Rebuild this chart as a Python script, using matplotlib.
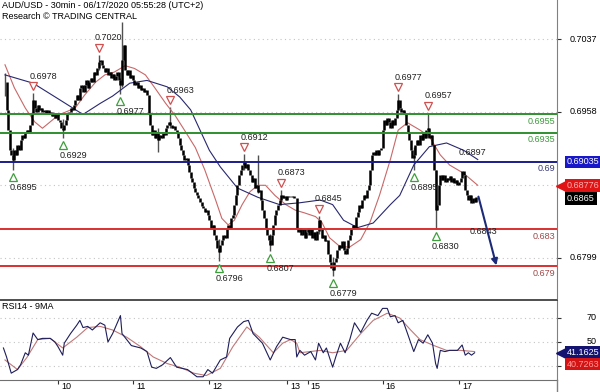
import numpy as np
import matplotlib
matplotlib.use('Agg')
import matplotlib.pyplot as plt
import matplotlib.transforms as mtransforms
from matplotlib.lines import Line2D

plt.rcParams['font.family'] = ['Liberation Sans', 'DejaVu Sans']
FS = 6.5

# AUD/USD 30min closes in pips (x 0.0001), one list per session
closes_09 = [6990, 6960, 6938, 6916, 6911, 6906, 6916, 6911, 6922, 6916, 6927, 6933, 6929, 6936,
             6938, 6936, 6944, 6955, 6971, 6962, 6958, 6965, 6960, 6962, 6958, 6960, 6957, 6960,
             6955, 6958, 6953, 6957, 6951, 6955, 6949]
closes_10 = [6947, 6940, 6938, 6944, 6949, 6955, 6958, 6962, 6960, 6965, 6971, 6976, 6971, 6984,
             6987, 6979, 6987, 6992, 6984, 6990, 6995, 6990, 7001, 6998, 7005, 7012, 7014, 7009,
             7005, 7001, 7005, 6998, 7001, 6995, 6999, 6992, 6997, 7001, 6992, 6987, 7014, 7030,
             7003, 6998, 7003, 6995, 6998]
closes_11 = [6992, 6987, 6990, 6984, 6987, 6982, 6984, 6979, 6982, 6976, 6955, 6944, 6933, 6938,
             6929, 6936, 6927, 6933, 6929, 6936, 6933, 6940, 6944, 6947, 6944, 6940, 6942, 6938,
             6936, 6929, 6922, 6916, 6911, 6906, 6908, 6900, 6892, 6886, 6882, 6875, 6871, 6867,
             6864, 6860, 6855, 6853, 6849, 6851, 6846]
closes_12 = [6840, 6832, 6835, 6824, 6819, 6810, 6806, 6813, 6819, 6824, 6821, 6832, 6835, 6832,
             6842, 6846, 6857, 6867, 6878, 6889, 6895, 6900, 6903, 6897, 6901, 6895, 6889, 6882,
             6886, 6875, 6878, 6871, 6873, 6862, 6851, 6842, 6832, 6824, 6819, 6813, 6824, 6835,
             6846, 6851, 6857, 6862, 6867, 6864, 6866, 6862]
closes_13 = [6866, 6865, 6865, 6866, 6864, 6864, 6832, 6827, 6832, 6824, 6830, 6821, 6827]
closes_15 = [6832, 6824, 6830, 6821, 6827, 6819, 6828, 6840, 6830, 6821, 6824, 6817, 6819, 6803,
             6795, 6788, 6786, 6795, 6799, 6808, 6813, 6810, 6817, 6808, 6803, 6810, 6819, 6824,
             6830, 6835, 6832, 6843, 6849, 6857, 6853, 6862, 6867, 6864, 6873, 6878, 6895, 6911,
             6914, 6911, 6916, 6911, 6916, 6918]
closes_16 = [6938, 6949, 6944, 6951, 6947, 6940, 6949, 6944, 6951, 6960, 6971, 6962, 6958, 6960,
             6955, 6944, 6936, 6927, 6916, 6908, 6911, 6922, 6927, 6922, 6933, 6927, 6936, 6929,
             6938, 6940, 6929, 6933, 6922, 6895, 6851, 6857, 6878, 6889, 6884, 6889, 6882, 6886,
             6884, 6888, 6882, 6886, 6880, 6884, 6878]
closes_17 = [6882, 6886, 6893, 6889, 6873, 6867, 6862, 6867, 6859, 6864, 6860, 6865]

# bars with long wicks: bar index, high, low (pips)
wick_idx = [0, 5, 18, 37, 60, 74, 75, 98, 106, 137, 153, 162, 170, 177, 201, 210, 252, 262, 271, 276]
wick_hi = [7000, 6918, 6978, 6950, 7020, 6995, 7055, 6940, 6963, 6820, 6912, 6911, 6825, 6873,
           6845, 6800, 6977, 6920, 6957, 6895]
wick_lo = [6975, 6895, 6955, 6929, 7003, 6977, 6985, 6914, 6940, 6796, 6895, 6870, 6807, 6860,
           6825, 6779, 6960, 6895, 6930, 6830]

# moving averages (bar index, pips)
ma_fast_idx = [0, 6, 13, 19, 24, 29, 34, 38, 45, 51, 58, 64, 70, 77, 83, 90, 96, 103, 109, 115,
               122, 128, 135, 139, 143, 147, 152, 157, 162, 167, 173, 180, 186, 192, 199, 203,
               208, 215, 221, 228, 234, 240, 247, 252, 258, 266, 272, 279, 285, 294, 303]
ma_fast_val = [7009, 6984, 6962, 6947, 6940, 6947, 6954, 6957, 6962, 6976, 6990, 6998, 7001, 7008,
               7005, 6998, 6984, 6967, 6954, 6938, 6919, 6895, 6862, 6842, 6835, 6840, 6857, 6871,
               6878, 6878, 6867, 6857, 6851, 6848, 6844, 6838, 6821, 6811, 6811, 6819, 6838, 6867,
               6906, 6938, 6946, 6938, 6931, 6911, 6900, 6891, 6878]
ma_slow_idx = [0, 18, 35, 50, 61, 69, 80, 91, 104, 112, 119, 125, 131, 138, 149, 162, 176, 189,
               202, 210, 217, 226, 236, 247, 253, 262, 272, 283, 294, 303]
ma_slow_val = [6998, 6989, 6971, 6955, 6967, 6975, 6989, 6992, 6985, 6974, 6960, 6938, 6916, 6898,
               6875, 6865, 6857, 6859, 6862, 6857, 6840, 6832, 6837, 6857, 6867, 6900, 6920, 6924,
               6916, 6906]

# RSI14 and its 9MA (bar index, value)
rsi_idx = [-1, 1, 4, 8, 10, 13, 15, 18, 21, 24, 29, 32, 34, 37, 38, 42, 46, 48, 50, 53,
           56, 61, 64, 66, 69, 74, 75, 78, 81, 87, 91, 94, 97, 101, 106, 110, 117, 123, 127, 130,
           133, 138, 142, 144, 149, 153, 156, 159, 162, 165, 170, 174, 178, 183, 186, 187, 189,
           192, 196, 199, 201, 204, 206, 210, 212, 215, 218, 221, 224, 228, 232, 235, 239, 242,
           245, 247, 250, 252, 255, 258, 262, 265, 268, 271, 274, 276, 277, 279, 282, 285, 290,
           293, 295, 297, 299, 301]
rsi_val = [45, 37.5, 24, 27, 31, 41, 39, 57.5, 52, 53, 53, 50, 46, 39, 49, 57, 64, 68, 62, 63,
           60, 66, 64, 50, 57, 72, 57, 52, 47, 45, 42, 29, 28, 31, 37, 29, 27, 21, 21, 27,
           24, 35, 37.5, 53, 62.5, 67, 68, 57, 53, 49, 35, 46, 54, 52, 52, 37.5, 43,
           39, 42, 35, 49, 41, 45, 29, 37.5, 49, 41, 52, 66, 58, 68, 74, 72, 78,
           78, 71, 72, 66, 68, 57, 42, 52, 49, 56, 49, 32, 28, 43, 42, 43, 43,
           47.5, 39, 41, 39, 41]
rsi_ma_idx = [0, 8, 14, 21, 29, 37, 46, 53, 61, 69, 78, 87, 95, 104, 112, 121, 129, 138, 146, 155,
              163, 172, 178, 183, 187, 189, 202, 210, 219, 228, 236, 245, 253, 260, 266, 274, 283,
              292, 301]
rsi_ma_val = [35, 27, 37, 52, 53, 45, 54, 62, 63, 60, 54, 46, 37.5, 32, 29, 24, 22, 28, 46, 62.5,
              54, 41, 49, 52, 49, 41, 43, 41, 43, 57, 68, 74, 70, 60, 52, 47.5, 43, 43, 42]

# swing highs / lows marked on the chart
hi_idx = [18, 60, 106, 153, 177, 201, 252, 271]
hi_val = [0.6978, 0.7020, 0.6963, 0.6912, 0.6873, 0.6845, 0.6977, 0.6957]
lo_idx = [5, 37, 74, 137, 170, 210, 262, 276]
lo_val = [0.6895, 0.6929, 0.6977, 0.6796, 0.6807, 0.6779, 0.6895, 0.6830]
note_idx = [291, 298]
note_val = [0.6914, 0.6828]
note_txt = ['0.6897', '0.6843']

# support / resistance levels
level_val = [0.6955, 0.6935, 0.69035, 0.683, 0.679]
level_txt = ['0.6955', '0.6935', '0.69', '0.683', '0.679']
level_col = ['#2f8f2f', '#2f8f2f', '#1c1c8c', '#d83030', '#d83030']
level_txtcol = ['#3c9a3c', '#3c9a3c', '#3a3a7a', '#a04848', '#a04848']

arrow_from = (303, 0.68686)
arrow_to = (315.4, 0.6788)

price_ticks = [0.7037, 0.6958, 0.6878, 0.6799]
price_labels = ['0.7037', '0.6958', '', '0.6799']   # 0.6878 sits under the bid box
rsi_ticks = [70, 50, 30]
rsi_labels = ['70', '50', '']                        # 30 sits under the 9MA box
day_ticks = [34, 82, 131, 181, 194, 242, 291]
day_labels = ['10', '11', '12', '13', '15', '16', '17']

last_close = 0.6865
bid_line = 0.68776
rsi_last = 41.1625
rsi_ma_last = 40.7263

W, H = 600, 392
fig = plt.figure(figsize=(W / 100, H / 100), dpi=100)
ax = fig.add_axes([0, 1 - 298 / H, 557 / W, 298 / H])
ax_rsi = fig.add_axes([0, 1 - 380 / H, 557 / W, 80 / H])
xlim = (-3.2, 353.8)

# ---- price panel
closes = np.array(closes_09 + closes_10 + closes_11 + closes_12 + closes_13 +
                  closes_15 + closes_16 + closes_17) / 1e4
x = np.arange(len(closes))
opens = np.r_[closes[0], closes[:-1]]
ax.vlines(wick_idx, np.array(wick_lo) / 1e4, np.array(wick_hi) / 1e4,
          color='#505050', lw=1.0, zorder=2)
ax.vlines(x, np.minimum(opens, closes), np.maximum(opens, closes), color='black', lw=1.8, zorder=3)
ax.plot(ma_fast_idx, np.array(ma_fast_val) / 1e4, color='#c86868', lw=0.8, zorder=2)
ax.plot(ma_slow_idx, np.array(ma_slow_val) / 1e4, color='#28286e', lw=0.8, zorder=2)

ytr = ax.get_yaxis_transform()
below = mtransforms.offset_copy(ytr, fig=fig, y=-7, units='dots')
for v, t, c, tc in zip(level_val, level_txt, level_col, level_txtcol):
    ax.axhline(v, color=c, lw=1.4, zorder=4)
    ax.text(555 / 557, v, t, transform=below, color=tc, fontsize=FS, ha='right', va='center')

tri_up = mtransforms.offset_copy(ax.transData, fig=fig, y=7, units='dots')
txt_up = mtransforms.offset_copy(ax.transData, fig=fig, x=-3.5, y=17, units='dots')
tri_dn = mtransforms.offset_copy(ax.transData, fig=fig, y=-7, units='dots')
txt_dn = mtransforms.offset_copy(ax.transData, fig=fig, x=-3.5, y=-17.5, units='dots')
ax.plot(hi_idx, hi_val, 'v', transform=tri_up, ms=5.5, mfc='white', mec='#d05050', mew=0.9, zorder=5)
ax.plot(lo_idx, lo_val, '^', transform=tri_dn, ms=5.5, mfc='white', mec='#3e9e3e', mew=0.9, zorder=5)
for i, v in zip(hi_idx, hi_val):
    ax.text(i, v, f'{v:.4f}', transform=txt_up, fontsize=FS, ha='left', va='center',
            color='#202020', zorder=6)
for i, v in zip(lo_idx, lo_val):
    ax.text(i, v, f'{v:.4f}', transform=txt_dn, fontsize=FS, ha='left', va='center',
            color='#202020', zorder=6)
for i, v, t in zip(note_idx, note_val, note_txt):
    ax.text(i, v, t, fontsize=FS, ha='left', va='center', color='#202020', zorder=6)

ax.annotate('', xy=arrow_to, xytext=arrow_from,
            arrowprops=dict(arrowstyle='-|>', color='#1c2a78', lw=1.5, mutation_scale=9), zorder=7)

ax.set_xlim(*xlim)
ax.set_ylim(0.67555, 0.70794)
ax.set_xticks([])
ax.set_yticks(price_ticks)
ax.yaxis.tick_right()
ax.tick_params(axis='y', length=3, width=0.8, color='#333333', labelright=False)
ax.grid(axis='y', color='#c4c4c4', ls=(0, (1, 3)), lw=0.8)
for s in ['top', 'left', 'bottom']:
    ax.spines[s].set_visible(False)
ax.spines['right'].set_color('#808080')

for v, lab in zip(price_ticks, price_labels):
    if lab:
        ax.text(597 / 557, v, lab, transform=ytr, fontsize=FS, ha='right', va='center',
                color='black', clip_on=False)

box_kw = dict(transform=ytr, fontsize=FS, ha='left', va='center', clip_on=False, zorder=10)
ax.text(567 / 557, level_val[2], f'{level_val[2]:.5f}', color='white',
        bbox=dict(boxstyle='square,pad=0.2', fc='#1818c8', ec='none'), **box_kw)
ax.text(567 / 557, bid_line, f'{bid_line:.5f}', color='#ffb0b0',
        bbox=dict(boxstyle='square,pad=0.2', fc='#e01414', ec='none'), **box_kw)
ax.plot([560.5 / 557], [bid_line], marker='<', ms=7, color='#e01414', transform=ytr,
        clip_on=False, zorder=9)
last_tr = mtransforms.offset_copy(ytr, fig=fig, y=-1, units='dots')
box_kw['transform'] = last_tr
ax.text(567 / 557, last_close, f'{last_close:.4f}', color='white',
        bbox=dict(boxstyle='square,pad=0.2', fc='black', ec='none'), **box_kw)

# ---- RSI panel
ax_rsi.plot(rsi_ma_idx, rsi_ma_val, color='#c07878', lw=0.8)
ax_rsi.plot(rsi_idx, rsi_val, color='#1e1e5a', lw=0.8)
ax_rsi.set_xlim(*xlim)
ax_rsi.set_ylim(18.3, 85)
ax_rsi.set_yticks(rsi_ticks)
ax_rsi.yaxis.tick_right()
ax_rsi.tick_params(axis='y', length=3, width=0.8, color='#333333', labelright=False)
ax_rsi.grid(axis='y', color='#c4c4c4', ls=(0, (1, 3)), lw=0.8)
ax_rsi.set_xticks(day_ticks)
ax_rsi.tick_params(axis='x', direction='out', length=3, width=0.8, color='#333333', labelbottom=False)
ax_rsi.spines['left'].set_visible(False)
ax_rsi.spines['top'].set_color('#303030')
ax_rsi.spines['top'].set_linewidth(1.2)
ax_rsi.spines['bottom'].set_color('#707070')
ax_rsi.spines['right'].set_color('#808080')

rtr = ax_rsi.get_yaxis_transform()
for v, lab in zip(rsi_ticks, rsi_labels):
    if lab:
        ax_rsi.text(597 / 557, v, lab, transform=rtr, fontsize=FS, ha='right', va='center', clip_on=False)
ax_rsi.text(567 / 557, rsi_last, f'{rsi_last:.4f}', transform=rtr, color='white', fontsize=FS,
            ha='left', va='center', clip_on=False, zorder=10,
            bbox=dict(boxstyle='square,pad=0.2', fc='#141470', ec='none'))
ax_rsi.plot([560.5 / 557], [rsi_last], marker='<', ms=7, color='#141470', transform=rtr,
            clip_on=False, zorder=9)
ma_tr = mtransforms.offset_copy(rtr, fig=fig, y=-11, units='dots')
ax_rsi.text(567 / 557, rsi_ma_last, f'{rsi_ma_last:.4f}', transform=ma_tr, color='#ff9a9a', fontsize=FS,
            ha='left', va='center', clip_on=False, zorder=10,
            bbox=dict(boxstyle='square,pad=0.2', fc='#d41414', ec='none'))

xtr = mtransforms.offset_copy(ax_rsi.get_xaxis_transform(), fig=fig, x=3, units='dots')
for d, lab in zip(day_ticks, day_labels):
    ax_rsi.text(d, -0.08, lab, transform=xtr, fontsize=FS, ha='left', va='center', clip_on=False)

fig.add_artist(Line2D([557 / W, 557 / W], [0, 1 - 380 / H], color='#808080', lw=1))

fig.text(2 / W, 1 - 1 / H, 'AUD/USD - 30min - 06/17/2020 05:55:28 (UTC+2)', fontsize=FS, va='top', ha='left')
fig.text(2 / W, 1 - 12 / H, 'Research \u00a9 TRADING CENTRAL', fontsize=FS, va='top', ha='left')
fig.text(2 / W, 1 - 302 / H, 'RSI14 - 9MA', fontsize=FS, va='top', ha='left')

fig.savefig('out.png', dpi=100)
